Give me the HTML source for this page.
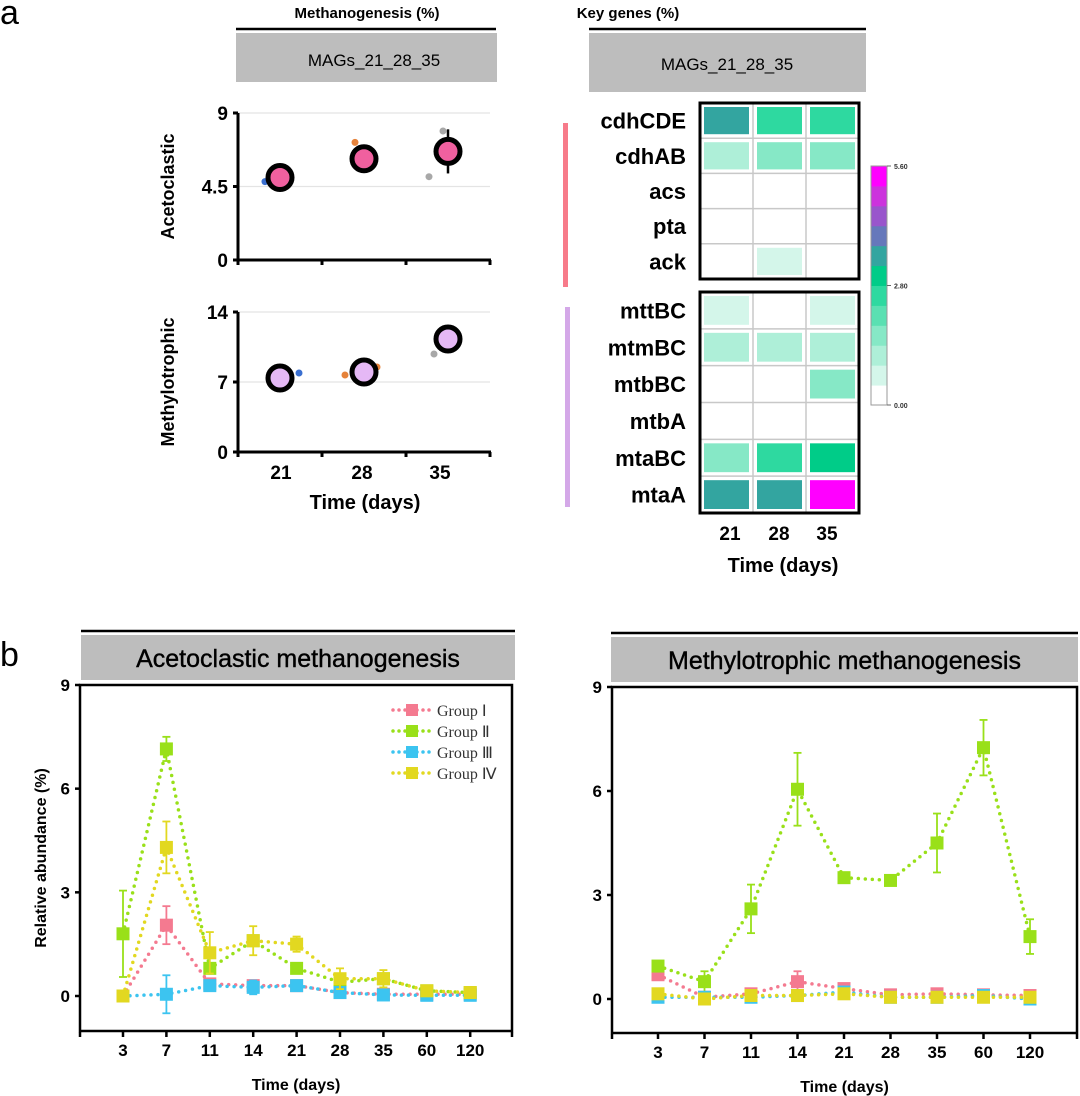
<!DOCTYPE html>
<html><head><meta charset="utf-8"><style>
html,body{margin:0;padding:0;background:#fff;}
svg{display:block;font-family:"Liberation Sans",Arial,sans-serif;}
</style></head><body>
<svg id="fig" width="1080" height="1096" viewBox="0 0 1080 1096" xmlns="http://www.w3.org/2000/svg">
<text x="0" y="24" font-size="34">a</text>
<text x="0" y="666" font-size="34">b</text>
<text x="367" y="18" font-size="15" font-weight="bold" text-anchor="middle">Methanogenesis (%)</text>
<line x1="236" y1="29" x2="496" y2="29" stroke="#000" stroke-width="2.5"/>
<rect x="236" y="33" width="261" height="49" fill="#bdbdbd"/>
<text x="374" y="66" font-size="17" text-anchor="middle">MAGs_21_28_35</text>
<text x="628" y="18" font-size="15" font-weight="bold" text-anchor="middle">Key genes (%)</text>
<line x1="589" y1="29" x2="866" y2="29" stroke="#000" stroke-width="2.5"/>
<rect x="589" y="33" width="277" height="59" fill="#bdbdbd"/>
<text x="727" y="70" font-size="17" text-anchor="middle">MAGs_21_28_35</text>
<rect x="563" y="123" width="5" height="164" fill="#f77b8a"/>
<rect x="565" y="307" width="5" height="200" fill="#d4a8e8"/>
<g id="pa"></g>
<g id="hm"></g>
<g id="pb"></g>
</svg>
<script>
const aDays = ["21","28","35"];
const acetoMeans = [5.05, 6.2, 6.65];
const acetoErrLo = [5.05, 6.2, 5.3];
const acetoErrHi = [5.05, 6.2, 8.0];
const acetoRepsX = [0, 1, 2, 2];
const acetoRepsY = [4.8, 7.2, 7.9, 5.1];
const acetoRepsOff = [-15, -9, -5, -19];
const methyMeans = [7.4, 8.0, 11.3];
const methyRepsX = [0, 1, 1, 2, 2];
const methyRepsY = [7.9, 7.7, 8.5, 9.8, 11.5];
const methyRepsOff = [19, -19, 13, -14, 7];
const repColors = ["#3a6fd0","#e5823a","#e5823a","#a8a8a8","#a8a8a8"];
const acetoRepColors = ["#3a6fd0","#e5823a","#a8a8a8","#a8a8a8"];

const genesTop = ["cdhCDE","cdhAB","acs","pta","ack"];
const genesBot = ["mttBC","mtmBC","mtbBC","mtbA","mtaBC","mtaA"];
const heatTop = [[3.3,2.5,2.5],[1.0,1.4,1.4],[0,0,0],[0,0,0],[0,0.5,0]];
const heatBot = [[0.5,0,0.5],[1.0,1.0,1.0],[0,0,1.4],[0,0,0],[1.4,2.5,2.8],[3.3,3.3,5.6]];
const binColors = ["#ffffff","#d4f6ea","#aeefd8","#86e8c6","#5ae0b2","#2ed9a0","#00cc88","#33a5a0","#6678bb","#9955cc","#cc33dd","#ff00ff"];
const cbTicks = ["5.60","2.80","0.00"];

const bDays = ["3","7","11","14","21","28","35","60","120"];
const groupNames = ["Group \u2160","Group \u2161","Group \u2162","Group \u2163"];
const groupColors = ["#f47a90","#99e019","#3cc4f0","#e2d820"];
const acI   = [0, 2.05, 0.35, 0.3, 0.3, 0.1, 0.05, 0.05, 0.05];
const acII  = [1.8, 7.15, 0.8, 1.6, 0.8, 0.4, 0.5, 0.15, 0.1];
const acIII = [0, 0.05, 0.3, 0.25, 0.3, 0.1, 0.03, 0.02, 0.02];
const acIV  = [0, 4.3, 1.25, 1.6, 1.5, 0.5, 0.5, 0.15, 0.1];
const acErrI   = [0, 0.55, 0, 0, 0, 0, 0, 0, 0];
const acErrII  = [1.25, 0.35, 0.1, 0.1, 0.1, 0.1, 0.1, 0.05, 0.05];
const acErrIII = [0, 0.55, 0.1, 0.2, 0.1, 0.1, 0.05, 0.05, 0.05];
const acErrIV  = [0, 0.75, 0.6, 0.42, 0.22, 0.3, 0.25, 0.05, 0.05];
const meI   = [0.7, 0.05, 0.15, 0.5, 0.3, 0.12, 0.15, 0.12, 0.1];
const meII  = [0.95, 0.5, 2.6, 6.05, 3.5, 3.42, 4.5, 7.25, 1.8];
const meIII = [0.05, 0.05, 0.05, 0.1, 0.2, 0.05, 0.05, 0.1, 0.0];
const meIV  = [0.15, 0.0, 0.1, 0.1, 0.15, 0.05, 0.05, 0.05, 0.05];
const meErrI   = [0.15, 0.05, 0.1, 0.3, 0.1, 0.1, 0.1, 0.1, 0.1];
const meErrII  = [0.1, 0.3, 0.7, 1.05, 0.1, 0.15, 0.85, 0.8, 0.5];
const meErrIII = [0.1, 0.1, 0.1, 0.1, 0.1, 0.05, 0.05, 0.1, 0.1];
const meErrIV  = [0.1, 0.1, 0.1, 0.1, 0.1, 0.1, 0.1, 0.1, 0.1];
const bTicks = [0, 3, 6, 9];

const NS = "http://www.w3.org/2000/svg";
function mk(parent, tag, attrs, text){
  const e = document.createElementNS(NS, tag);
  for (const k in attrs) e.setAttribute(k, attrs[k]);
  if (text !== undefined) e.textContent = text;
  parent.appendChild(e);
  return e;
}

const pa = document.getElementById('pa');
function scatterPanel(y0px, y1px, ymax, ticks, tickLbls, means, rx, ry, roff, rcol, fill, errLo, errHi, ylabel, name){
  const xAxis = i => 280 + 84*i;
  const yS = v => y1px - (v/ymax)*(y1px - y0px);
  const g = mk(pa, 'g', {});
  
  
  ticks.forEach((t, i) => {
    if (t > 0) mk(g, 'line', {x1:238, y1:yS(t), x2:490, y2:yS(t), stroke:'#e4e4e4', 'stroke-width':1.2});
    const tl = mk(g, 'text', {x:228, y:yS(t)+7, 'font-size':19, 'font-weight':'bold', 'text-anchor':'end'}, tickLbls[i]);
    
    
    mk(g, 'line', {x1:233, y1:yS(t), x2:238, y2:yS(t), stroke:'#000', 'stroke-width':3});
  });
  mk(g, 'line', {x1:238, y1:y0px, x2:238, y2:y1px+1, stroke:'#000', 'stroke-width':3});
  mk(g, 'line', {x1:237, y1:y1px, x2:491, y2:y1px, stroke:'#000', 'stroke-width':3});
  [238,322,406,490].forEach(x => mk(g, 'line', {x1:x, y1:y1px, x2:x, y2:y1px+5, stroke:'#000', 'stroke-width':3}));
  const yl = mk(g, 'text', {x:0, y:0, 'font-size':18, 'font-weight':'bold', 'text-anchor':'middle', transform:`translate(174,${(y0px+y1px)/2}) rotate(-90)`}, ylabel);
  
  
  rx.forEach((ci, i) => {
    const d = mk(g, 'circle', {cx:xAxis(ci)+roff[i], cy:yS(ry[i]), r:3.5, fill:rcol[i]});
    
    
  });
  means.forEach((m, i) => {
    if (errLo && errHi[i] !== errLo[i]) {
      mk(g, 'line', {x1:xAxis(i), y1:yS(errHi[i]), x2:xAxis(i), y2:yS(errLo[i]), stroke:'#000', 'stroke-width':2.5});
    }
    const c = mk(g, 'circle', {cx:xAxis(i), cy:yS(m), r:12, fill:fill, stroke:'#000', 'stroke-width':5});
    
    
  });
}
scatterPanel(113, 260, 9, [0,4.5,9], ["0","4.5","9"], acetoMeans, acetoRepsX, acetoRepsY, acetoRepsOff, acetoRepColors, "#f0609f", acetoErrLo, acetoErrHi, "Acetoclastic", "acetoclastic-scatter");
scatterPanel(312, 452, 14, [0,7,14], ["0","7","14"], methyMeans, methyRepsX, methyRepsY, methyRepsOff, repColors, "#e5b8f5", null, null, "Methylotrophic", "methylotrophic-scatter");
[281,362,440].forEach((x, i) => {
  const t = mk(pa, 'text', {x:x, y:479, 'font-size':19, 'font-weight':'bold', 'text-anchor':'middle'}, aDays[i]);
  
  
});
{
  const t = mk(pa, 'text', {x:365, y:509, 'font-size':20, 'font-weight':'bold', 'text-anchor':'middle'}, 'Time (days)');
  
  
}

const hm = document.getElementById('hm');
const colorFor = v => binColors[Math.min(11, Math.floor(v / (5.6/12)))];
function heatBlock(genes, vals, top, bottom, name){
  const x0 = 700, x1 = 859;
  const cw = (x1 - x0)/3, rh = (bottom - top)/genes.length;
  const g = mk(hm, 'g', {});
  
  
  mk(g, 'rect', {x:x0, y:top, width:x1-x0, height:bottom-top, fill:'#fff'});
  for (let c = 1; c < 3; c++) mk(g, 'line', {x1:x0+c*cw, y1:top, x2:x0+c*cw, y2:bottom, stroke:'#c8c8c8', 'stroke-width':1.5});
  for (let r = 1; r < genes.length; r++) mk(g, 'line', {x1:x0, y1:top+r*rh, x2:x1, y2:top+r*rh, stroke:'#c8c8c8', 'stroke-width':1.5});
  genes.forEach((gn, r) => {
    const t = mk(g, 'text', {x:686, y:top+r*rh+rh/2+8, 'font-size':22, 'font-weight':'bold', 'text-anchor':'end'}, gn);
    
    
    vals[r].forEach((v, c) => {
      const cell = mk(g, 'rect', {x:x0+c*cw+4, y:top+r*rh+4, width:cw-8, height:rh-8, fill:colorFor(v)});
      
      
    });
  });
  mk(g, 'rect', {x:x0, y:top, width:x1-x0, height:bottom-top, fill:'none', stroke:'#000', 'stroke-width':3});
}
heatBlock(genesTop, heatTop, 103, 279, 'acetoclastic-heatmap');
heatBlock(genesBot, heatBot, 292, 513, 'methylotrophic-heatmap');
[730,779,827].forEach((x, i) => {
  const t = mk(hm, 'text', {x:x, y:540, 'font-size':19, 'font-weight':'bold', 'text-anchor':'middle'}, aDays[i]);
  
  
});
{
  const t = mk(hm, 'text', {x:783, y:572, 'font-size':20, 'font-weight':'bold', 'text-anchor':'middle'}, 'Time (days)');
  
  
  const cb = mk(hm, 'g', {});
  
  
  const cbTop = 166, cbBot = 405, segH = (cbBot - cbTop)/12;
  binColors.forEach((col, i) => mk(cb, 'rect', {x:871, y:cbBot-(i+1)*segH, width:16, height:segH+0.5, fill:col}));
  mk(cb, 'rect', {x:871, y:cbTop, width:16, height:cbBot-cbTop, fill:'none', stroke:'#999', 'stroke-width':1});
  cbTicks.forEach((lbl, i) => {
    const y = cbTop + i*(cbBot-cbTop)/2;
    mk(cb, 'line', {x1:887, y1:y, x2:891, y2:y, stroke:'#666', 'stroke-width':1});
    mk(cb, 'text', {x:894, y:y+3, 'font-size':7, 'font-weight':'bold', fill:'#333'}, lbl);
  });
}

const pb = document.getElementById('pb');
function linePanel(opt){
  const {fx0, fx1, fy0, fy1, y9, y0, xFirst, xStep, series, errs, title, boxX0, boxX1, name, legend, ylabel} = opt;
  const xS = i => xFirst + xStep*i;
  const yS = v => y0 - v*(y0 - y9)/9;
  const g = mk(pb, 'g', {});
  
  
  mk(g, 'line', {x1:boxX0, y1:fy0-54, x2:boxX1, y2:fy0-54, stroke:'#000', 'stroke-width':2.5});
  const box = mk(g, 'rect', {x:boxX0, y:fy0-50, width:boxX1-boxX0, height:45, fill:'#bdbdbd'});
  
  
  const tt = mk(g, 'text', {x:(boxX0+boxX1)/2, y:fy0-18, 'font-size':25, 'text-anchor':'middle', stroke:'#000', 'stroke-width':0.4}, title);
  
  
  mk(g, 'rect', {x:fx0, y:fy0, width:fx1-fx0, height:fy1-fy0, fill:'none', stroke:'#000', 'stroke-width':2.5});
  bTicks.forEach(t => {
    mk(g, 'line', {x1:fx0-5, y1:yS(t), x2:fx0, y2:yS(t), stroke:'#000', 'stroke-width':2.5});
    const tl = mk(g, 'text', {x:fx0-10, y:yS(t)+6, 'font-size':17, 'font-weight':'bold', 'text-anchor':'end'}, String(t));
    
    
  });
  mk(g, 'line', {x1:fx0, y1:fy1+1, x2:fx0, y2:fy1+6, stroke:'#000', 'stroke-width':2.5});
  mk(g, 'line', {x1:fx1, y1:fy1+1, x2:fx1, y2:fy1+6, stroke:'#000', 'stroke-width':2.5});
  bDays.forEach((d, i) => {
    mk(g, 'line', {x1:xS(i), y1:fy1, x2:xS(i), y2:fy1+6, stroke:'#000', 'stroke-width':2.5});
    const tl = mk(g, 'text', {x:xS(i), y:fy1+25, 'font-size':17, 'font-weight':'bold', 'text-anchor':'middle'}, d);
    
    
  });
  const xt = mk(g, 'text', {x:(fx0+fx1)/2, y:fy1+59, 'font-size':16, 'font-weight':'bold', 'text-anchor':'middle'}, 'Time (days)');
  
  
  if (ylabel) {
    const yl = mk(g, 'text', {x:0, y:0, 'font-size':16, 'font-weight':'bold', 'text-anchor':'middle', transform:`translate(46,${(fy0+fy1)/2}) rotate(-90)`}, ylabel);
    
    
  }
  series.forEach((vals, s) => {
    const col = groupColors[s];
    const sg = mk(g, 'g', {});
    
    
    const pts = vals.map((v, i) => xS(i) + ',' + yS(v)).join(' ');
    mk(sg, 'polyline', {points:pts, fill:'none', stroke:col, 'stroke-width':3.5, 'stroke-dasharray':'0 7', 'stroke-linecap':'round'});
    vals.forEach((v, i) => {
      const e = errs[s][i];
      if (e > 0) {
        mk(sg, 'line', {x1:xS(i), y1:yS(v+e), x2:xS(i), y2:yS(v-e), stroke:col, 'stroke-width':1.8});
        mk(sg, 'line', {x1:xS(i)-4, y1:yS(v+e), x2:xS(i)+4, y2:yS(v+e), stroke:col, 'stroke-width':1.8});
        mk(sg, 'line', {x1:xS(i)-4, y1:yS(v-e), x2:xS(i)+4, y2:yS(v-e), stroke:col, 'stroke-width':1.8});
      }
      const m = mk(sg, 'rect', {x:xS(i)-6.5, y:yS(v)-6.5, width:13, height:13, fill:col});
      
      
    });
  });
  if (legend) {
    groupNames.forEach((n, s) => {
      const ly = 710 + 21*s;
      const lg = mk(g, 'g', {});
      
      
      mk(lg, 'line', {x1:393, y1:ly, x2:430, y2:ly, stroke:groupColors[s], 'stroke-width':3.5, 'stroke-dasharray':'0 6', 'stroke-linecap':'round'});
      mk(lg, 'rect', {x:406, y:ly-6, width:12, height:12, fill:groupColors[s]});
      mk(lg, 'text', {x:437, y:ly+6, 'font-size':16, fill:'#333', 'font-family':'"Liberation Serif",serif'}, n);
    });
  }
}
linePanel({fx0:80, fx1:512, fy0:685, fy1:1031, y9:685, y0:996, xFirst:123, xStep:43.4,
  series:[acI, acII, acIII, acIV], errs:[acErrI, acErrII, acErrIII, acErrIV],
  title:'Acetoclastic methanogenesis', boxX0:81, boxX1:515, name:'acetoclastic-line-chart', legend:true, ylabel:'Relative abundance (%)'});
linePanel({fx0:612, fx1:1077, fy0:687, fy1:1033, y9:687, y0:999, xFirst:658, xStep:46.5,
  series:[meI, meII, meIII, meIV], errs:[meErrI, meErrII, meErrIII, meErrIV],
  title:'Methylotrophic methanogenesis', boxX0:611, boxX1:1078, name:'methylotrophic-line-chart', legend:false, ylabel:null});
</script>
</body></html>
